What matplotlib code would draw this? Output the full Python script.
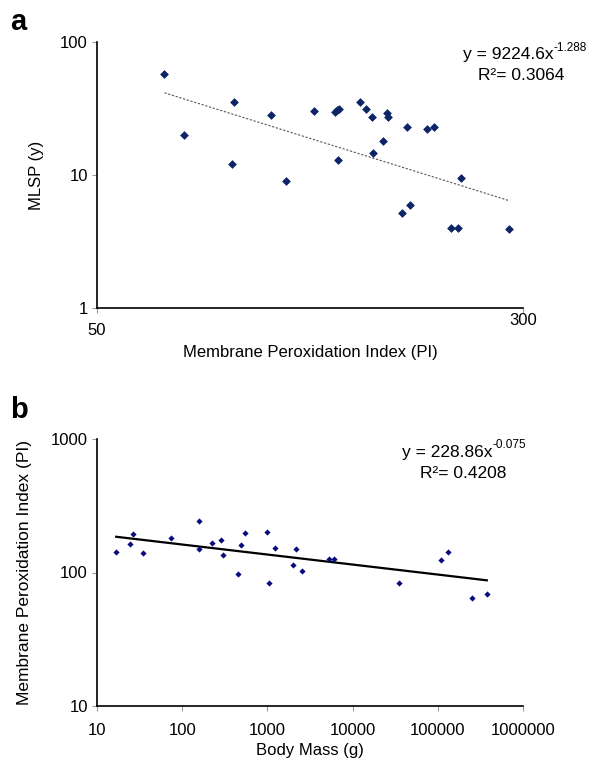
import numpy as np
import matplotlib
matplotlib.use("Agg")
import matplotlib.pyplot as plt
from matplotlib.ticker import FixedLocator, NullLocator, FixedFormatter

plt.rcParams['font.family'] = ['Liberation Sans', 'DejaVu Sans']

W, H = 598, 765

# panel a: PI vs MLSP
pi_a = [66.4, 72.2, 89.0, 88.3, 103.9, 110.6, 124.7, 136.0, 137.4, 138.6,
        137.8, 151.0, 154.8, 158.8, 159.7, 166.3, 169.0, 170.0, 180.7, 184.0,
        186.9, 200.2, 206.0, 222.0, 228.5, 231.0, 283.0]
mlsp_a = [57.2, 20.0, 35.2, 12.0, 28.1, 9.0, 30.1, 29.6, 30.6, 31.2,
          13.0, 35.2, 31.2, 27.2, 14.6, 17.9, 29.4, 27.2, 5.2, 23.1,
          6.0, 22.3, 22.9, 4.0, 4.0, 9.45, 3.9]
fit_a = (9224.6, -1.288)

# panel b: body mass vs PI
mass_b = [16.8, 24.7, 26.7, 34.7, 73.7, 159, 159, 223, 283, 298,
          457, 495, 545, 987, 1049, 1228, 1986, 2148, 2582, 5284,
          5970, 34900, 108700, 132800, 249400, 375800]
pi_b = [142.9, 163.1, 192.8, 138.8, 180.9, 241.3, 148.8, 165.0, 175.8, 135.6,
        97.2, 160.3, 198.4, 200.7, 83.7, 151.4, 114.1, 150.5, 102.3, 125.2,
        125.2, 84.1, 123.7, 142.1, 64.2, 69.6]
fit_b = (228.86, -0.075)


def fx(px):
    return px / W


def fy(py):
    return 1 - py / H


fig = plt.figure(figsize=(W / 100, H / 100), dpi=100)
ax1 = fig.add_axes([fx(97), fy(308), fx(523) - fx(97), fy(42) - fy(308)])
ax2 = fig.add_axes([fx(97), fy(706), fx(523) - fx(97), fy(439) - fy(706)])


def style(ax):
    ax.set_xscale('log')
    ax.set_yscale('log')
    for s in ['top', 'right']:
        ax.spines[s].set_visible(False)
    for s in ['left', 'bottom']:
        ax.spines[s].set_linewidth(1.2)
    ax.xaxis.set_minor_locator(NullLocator())
    ax.yaxis.set_minor_locator(NullLocator())
    ax.tick_params(which='major', direction='out', length=3.5, width=0.8,
                   color='#999999', labelsize=12, pad=3)


style(ax1)
ax1.scatter(pi_a, mlsp_a, marker='D', s=20, color='#0b2566', zorder=3,
            linewidths=0)
xa = np.array([min(pi_a), max(pi_a)])
ax1.plot(xa, fit_a[0] * xa ** fit_a[1], ls=(0, (2, 1.5)), lw=0.8,
         color='#555555')
ax1.set_xlim(50, 300)
ax1.set_ylim(1, 100)
ax1.xaxis.set_major_locator(FixedLocator([50, 300]))
ax1.xaxis.set_major_formatter(FixedFormatter(['50', '300']))
ax1.yaxis.set_major_locator(FixedLocator([1, 10, 100]))
ax1.yaxis.set_major_formatter(FixedFormatter(['1', '10', '100']))
ax1.tick_params(axis='x', pad=7)
ax1.get_xticklabels()[1].set_y(0.035)
ax1.set_xlabel('Membrane Peroxidation Index (PI)', fontsize=12, labelpad=5)
ax1.set_ylabel('MLSP (y)', fontsize=12, labelpad=12)
ax1.annotate('-1.288', xy=(1.0, 0.55), fontsize=8.5, va='bottom',
             xycoords=fig.text(fx(463), fy(55), 'y = 9224.6x', fontsize=12.5,
                               ha='left', va='center'))
fig.text(fx(478), fy(75), 'R²= 0.3064', fontsize=12.5, ha='left', va='center')
fig.text(fx(10), fy(22), 'a', fontsize=21, fontweight='bold',
         ha='left', va='center')

style(ax2)
ax2.scatter(mass_b, pi_b, marker='D', s=10, color='#0a0a80', zorder=3,
            linewidths=0)
xb = np.array([min(mass_b), max(mass_b)])
ax2.plot(xb, fit_b[0] * xb ** fit_b[1], ls='-', lw=1.6, color='black')
ax2.set_xlim(10, 1000000)
ax2.set_ylim(10, 1000)
xt = [10, 100, 1000, 10000, 100000, 1000000]
ax2.xaxis.set_major_locator(FixedLocator(xt))
ax2.xaxis.set_major_formatter(FixedFormatter([str(v) for v in xt]))
ax2.yaxis.set_major_locator(FixedLocator([10, 100, 1000]))
ax2.yaxis.set_major_formatter(FixedFormatter(['10', '100', '1000']))
ax2.tick_params(axis='x', pad=9)
ax2.set_xlabel('Body Mass (g)', fontsize=12, labelpad=3)
ax2.set_ylabel('Membrane Peroxidation Index (PI)', fontsize=12.5,
               labelpad=14)
ax2.annotate('-0.075', xy=(1.0, 0.55), fontsize=8.5, va='bottom',
             xycoords=fig.text(fx(402), fy(452), 'y = 228.86x', fontsize=12.5,
                               ha='left', va='center'))
fig.text(fx(420), fy(473), 'R²= 0.4208', fontsize=12.5, ha='left', va='center')
fig.text(fx(10), fy(410), 'b', fontsize=21, fontweight='bold',
         ha='left', va='center')

fig.savefig('out.png', dpi=100)
